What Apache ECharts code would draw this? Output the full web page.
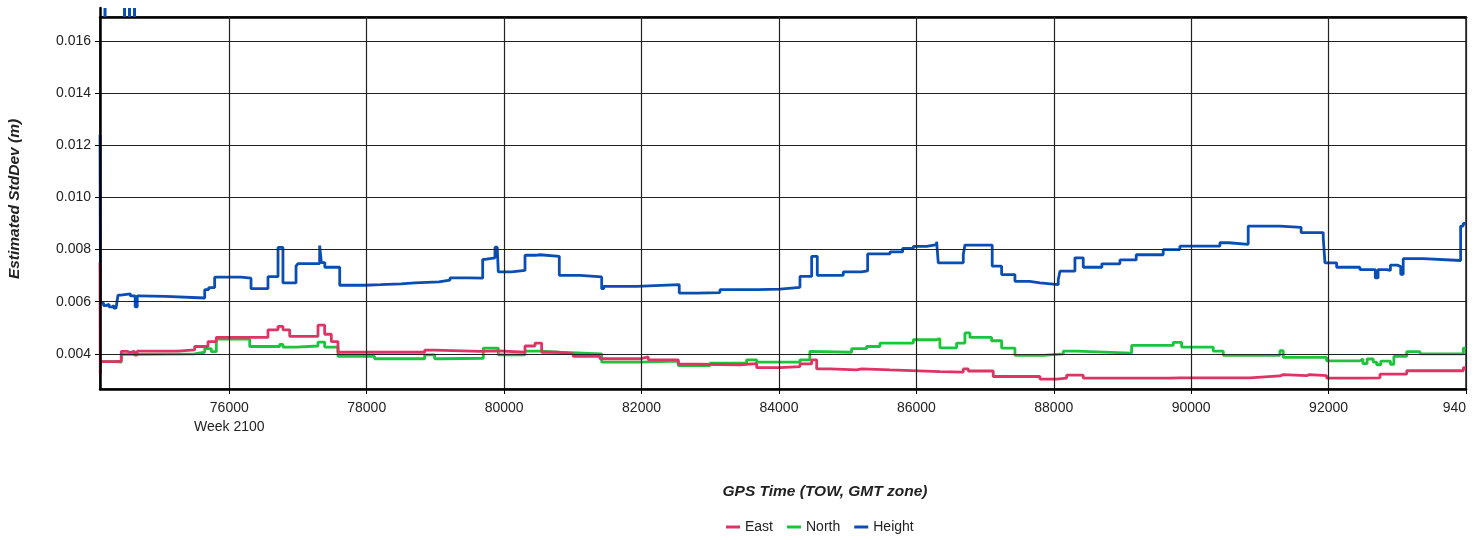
<!DOCTYPE html>
<html>
<head>
<meta charset="utf-8">
<script src="https://cdn.jsdelivr.net/npm/echarts@6/dist/echarts.min.js"></script>
<style>
html, body { margin: 0; padding: 0; background: #fff; }
#chart { width: 1484px; height: 540px; }
</style>
</head>
<body>
<div id="chart"></div>
<script>
var chart = echarts.init(document.getElementById('chart'), null, { renderer: 'canvas' });

// axis ticks
var xTicks = [76000, 78000, 80000, 82000, 84000, 86000, 88000, 90000, 92000, 94000];
var yTicks = [0.004, 0.006, 0.008, 0.010, 0.012, 0.014, 0.016];
var weekLabel = 'Week 2100';
var seriesNames = ['East', 'North', 'Height'];

// [GPS time (TOW), std dev (m)] - step lines
var eastData = [
    [74118, 0.0075], [74122, 0.0032], [74126, 0.0037], [74332, 0.00372], [74428, 0.00409],
    [74520, 0.00405], [74560, 0.0041], [74620, 0.00395], [74660, 0.0041], [75253, 0.00415],
    [75496, 0.00428], [75690, 0.00447], [75811, 0.00463], [76563, 0.00492], [76709, 0.00505],
    [76781, 0.00492], [76879, 0.00467], [77291, 0.0051], [77388, 0.00475], [77485, 0.00447],
    [77582, 0.00406], [78844, 0.00414], [78989, 0.00409], [79648, 0.00411], [79915, 0.00406],
    [80304, 0.0043], [80450, 0.00441], [80546, 0.00406], [80788, 0.004], [81006, 0.0039],
    [81395, 0.00381], [81977, 0.00388], [82098, 0.00377], [82535, 0.0036], [82802, 0.00358],
    [83433, 0.00362], [83676, 0.00347], [84015, 0.00351], [84306, 0.00361], [84476, 0.00377],
    [84549, 0.00342], [84743, 0.00338], [85131, 0.00342], [85204, 0.00338], [85616, 0.00332],
    [86343, 0.0033], [86683, 0.00342], [86756, 0.00334], [87119, 0.00313], [87799, 0.00303],
    [88042, 0.00307], [88187, 0.00318], [88429, 0.00307], [89691, 0.00308], [89836, 0.00315],
    [89861, 0.00308], [90855, 0.00315], [91292, 0.0032], [91340, 0.00316], [91680, 0.0032],
    [91720, 0.00316], [91971, 0.00307], [92456, 0.00308], [92748, 0.00322], [93137, 0.00335],
    [93962, 0.00347], [94000, 0.00347]
];

var northData = [
    [74118, 0.0037], [74332, 0.00368], [74428, 0.00398], [74671, 0.004], [75496, 0.00406],
    [75642, 0.0042], [75738, 0.00408], [75811, 0.00456], [76297, 0.00428], [76733, 0.00436],
    [76781, 0.00426], [76975, 0.0043], [77291, 0.00445], [77388, 0.00426], [77582, 0.0039],
    [78116, 0.00381], [78844, 0.00396], [78989, 0.00381], [79110, 0.00383], [79697, 0.00422],
    [79915, 0.00396], [80304, 0.0041], [80522, 0.00406], [80788, 0.004], [81420, 0.00368],
    [81977, 0.00372], [82535, 0.00355], [82996, 0.00364], [83530, 0.00377], [83676, 0.00368],
    [84015, 0.00368], [84306, 0.00377], [84450, 0.00409], [84476, 0.00406], [85058, 0.0042],
    [85276, 0.00428], [85470, 0.00441], [85955, 0.00454], [86295, 0.00458], [86343, 0.00423],
    [86586, 0.00441], [86707, 0.0048], [86780, 0.00463], [87095, 0.0045], [87241, 0.00422],
    [87435, 0.00394], [87847, 0.004], [88139, 0.0041], [88333, 0.00403], [89133, 0.00432],
    [89739, 0.00444], [89861, 0.00426], [90321, 0.0041], [90467, 0.00394], [91292, 0.00412],
    [91340, 0.00386], [91971, 0.00373], [92456, 0.0038], [92500, 0.00362], [92560, 0.0038],
    [92650, 0.00368], [92700, 0.00358], [92760, 0.00372], [92900, 0.0036], [92950, 0.0039],
    [93137, 0.00408], [93331, 0.004], [93962, 0.00422], [94000, 0.00422]
];

var heightData = [
    [74118, 0.0124], [74125, 0.00595], [74170, 0.00585], [74200, 0.0059], [74250, 0.0058],
    [74290, 0.00585], [74320, 0.00575], [74351, 0.0058], [74380, 0.00625], [74420, 0.0063],
    [74560, 0.00622], [74630, 0.0058], [74660, 0.00622], [74690, 0.0062], [75070, 0.00614],
    [75642, 0.00646], [75700, 0.00654], [75787, 0.00694], [76170, 0.0069], [76316, 0.0065],
    [76563, 0.00696], [76709, 0.00808], [76781, 0.00672], [76971, 0.00736], [77000, 0.00746],
    [77315, 0.00815], [77340, 0.0075], [77390, 0.00732], [77607, 0.00663], [77970, 0.00665],
    [78200, 0.00668], [78500, 0.00672], [78700, 0.00676], [79050, 0.00683], [79212, 0.00691],
    [79500, 0.00694], [79520, 0.0069], [79688, 0.00762], [79720, 0.00768], [79867, 0.00809],
    [79900, 0.00805], [79915, 0.00714], [80110, 0.0072], [80304, 0.00778], [80460, 0.0078],
    [80522, 0.00774], [80803, 0.00701], [81104, 0.00695], [81420, 0.0065], [81450, 0.00659],
    [81929, 0.00665], [82549, 0.00633], [82802, 0.00635], [83141, 0.00646], [83700, 0.00648],
    [84015, 0.00655], [84306, 0.00697], [84476, 0.00774], [84558, 0.00701], [84936, 0.00714],
    [85200, 0.00718], [85291, 0.00783], [85616, 0.00791], [85800, 0.00804], [85955, 0.00812],
    [86150, 0.00819], [86295, 0.0083], [86319, 0.00749], [86683, 0.0078], [86707, 0.00817],
    [87104, 0.00736], [87241, 0.00704], [87435, 0.00678], [87650, 0.00672], [87799, 0.00665],
    [88065, 0.00684], [88090, 0.00717], [88308, 0.00768], [88429, 0.00732], [88700, 0.00745],
    [88963, 0.0076], [89200, 0.0078], [89593, 0.008], [89836, 0.00813], [90418, 0.00826],
    [90550, 0.0082], [90830, 0.0089], [91292, 0.00885], [91600, 0.00865], [91922, 0.00846],
    [91947, 0.00749], [92117, 0.00732], [92456, 0.00723], [92680, 0.00691], [92720, 0.00723],
    [92845, 0.0072], [92900, 0.0074], [93000, 0.00735], [93050, 0.00705], [93086, 0.00765],
    [93377, 0.00758], [93922, 0.0089], [93960, 0.009], [94000, 0.009]
];

// Height values above the plotted range (drawn in the thin band on top)
var heightOverflow = [74191, 74475, 74547, 74620];

var colors = { East: '#DF3366', North: '#1CC43C', Height: '#0A4EB4' };
var fontFamily = '"Liberation Sans", Arial, sans-serif';
var titleFont = 'italic bold 15.5px "Liberation Sans", Arial, sans-serif';

function stepLine(name, data, z) {
    return {
        name: name,
        type: 'line',
        step: 'end',
        data: data,
        symbol: 'none',
        z: z,
        lineStyle: { width: 2.8, color: colors[name] },
        itemStyle: { color: colors[name] }
    };
}

chart.setOption({
    animation: false,
    backgroundColor: '#fff',
    grid: [
        { left: 100, right: 18, top: 17, bottom: 151, show: true, borderColor: '#222', borderWidth: 1.5 },
        { left: 100, right: 18, top: 8, height: 9 }
    ],
    xAxis: [
        {
            type: 'value',
            gridIndex: 0,
            min: 74118,
            max: 94000,
            z: 4,
            axisLine: { show: true, onZero: false, lineStyle: { color: '#000', width: 2.5 } },
            axisTick: { show: true, customValues: xTicks, length: 5, lineStyle: { color: '#000' } },
            axisLabel: {
                customValues: xTicks,
                color: '#222',
                fontSize: 14,
                fontFamily: fontFamily,
                margin: 10,
                lineHeight: 19,
                alignMaxLabel: 'right',
                formatter: function (v) {
                    if (v === 76000) return '76000\n' + weekLabel;
                    if (v === 94000) return '940';
                    return String(v);
                }
            },
            splitLine: { show: true, lineStyle: { color: '#222', width: 1.2 } }
        },
        {
            type: 'value',
            gridIndex: 1,
            min: 74118,
            max: 94000,
            position: 'top',
            axisLine: { show: true, lineStyle: { color: '#000', width: 2.5 } },
            axisTick: { show: false },
            axisLabel: { show: false },
            splitLine: { show: false }
        }
    ],
    yAxis: [
        {
            type: 'value',
            gridIndex: 0,
            min: 0.00265,
            max: 0.01692,
            z: 4,
            axisLine: { show: true, onZero: false, lineStyle: { color: '#000', width: 2.5 } },
            axisTick: { show: true, customValues: yTicks, length: 5, lineStyle: { color: '#000' } },
            axisLabel: {
                customValues: yTicks,
                color: '#222',
                fontSize: 14,
                fontFamily: fontFamily,
                margin: 9,
                formatter: function (v) { return v.toFixed(3); }
            },
            splitLine: { show: true, lineStyle: { color: '#222', width: 1.2 } }
        },
        {
            type: 'value',
            gridIndex: 1,
            min: 0,
            max: 1,
            axisLine: { show: true, lineStyle: { color: '#000', width: 2.5 } },
            axisTick: { show: false },
            axisLabel: { show: false },
            splitLine: { show: false }
        }
    ],
    legend: {
        data: seriesNames,
        left: 721,
        top: 515,
        icon: 'rect',
        itemWidth: 14,
        itemHeight: 3,
        itemGap: 14,
        textStyle: { fontSize: 14, color: '#222', fontFamily: fontFamily }
    },
    graphic: [
        {
            type: 'text',
            x: 15,
            y: 199,
            rotation: Math.PI / 2,
            style: {
                text: 'Estimated StdDev (m)',
                font: titleFont,
                fill: '#222',
                align: 'center',
                verticalAlign: 'middle'
            }
        },
        {
            type: 'text',
            x: 825,
            y: 492,
            style: {
                text: 'GPS Time (TOW, GMT zone)',
                font: titleFont,
                fill: '#222',
                align: 'center',
                verticalAlign: 'middle'
            }
        }
    ],
    series: [
        stepLine('East', eastData, 3),
        stepLine('North', northData, 2),
        stepLine('Height', heightData, 2),
        {
            name: 'Height',
            type: 'bar',
            xAxisIndex: 1,
            yAxisIndex: 1,
            barWidth: 3,
            silent: true,
            itemStyle: { color: colors.Height },
            data: heightOverflow.map(function (x) { return [x, 1]; })
        }
    ]
});
</script>
</body>
</html>
